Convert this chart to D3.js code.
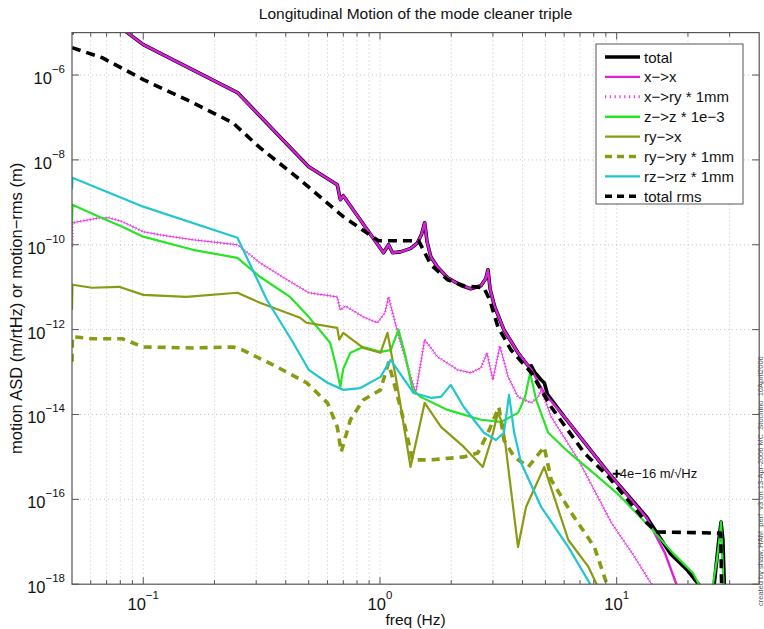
<!DOCTYPE html>
<html>
<head>
<meta charset="utf-8">
<script src="https://cdn.jsdelivr.net/npm/d3@7"></script>
<style>
  html, body { margin: 0; padding: 0; background: #fff; }
  svg text { font-family: "Liberation Sans", Arial, Helvetica, sans-serif; }
</style>
</head>
<body>
<div id="chart"></div>
<script>
// axis labels / ticks
const chartTitle = "Longitudinal Motion of the mode cleaner triple";
const xLabel = "freq (Hz)";
const yLabel = "motion ASD (m/rtHz) or motion\u2212rms (m)";
const xTicks = [0.1, 1, 10];
const yTicks = [1e-6, 1e-8, 1e-10, 1e-12, 1e-14, 1e-16, 1e-18];
const legendLabels = ["total", "x\u2212>x", "x\u2212>ry * 1mm", "z\u2212>z * 1e\u22123",
  "ry\u2212>x", "ry\u2212>ry * 1mm", "rz\u2212>rz * 1mm", "total rms"];
const noteText = "4e\u221216 m/\u221AHz";
const notePoint = [10, 4e-16];
const stampText = "created by shaw, HAM_perf_v3 on 13-Apr-2006 MC_Stochino_10April2006";

// series: [freq (Hz), value]
const totalAsd = [[0.05, 9e-6], [0.0502, 1.2e-4], [0.0856, 1e-5], [0.1, 5.2e-6], [0.25, 3.85e-7],
  [0.5, 6.9e-9], [0.66, 2.6e-9], [0.68, 1.15e-9], [0.70, 1.43e-9], [1.035, 6.5e-11], [1.087, 1.0e-10],
  [1.13, 6.5e-11], [1.22, 6.8e-11], [1.35, 8.2e-11], [1.44, 1.11e-10], [1.5, 1.8e-10], [1.545, 3.3e-10],
  [1.58, 1.2e-10], [1.64, 5.2e-11], [1.75, 3.0e-11], [1.93, 1.67e-11], [2.2, 1.1e-11], [2.42, 9.2e-12],
  [2.67, 1.08e-11], [2.8, 1.6e-11], [2.86, 2.57e-11], [2.92, 9e-12], [3.05, 3.5e-12], [3.34, 9.9e-13],
  [3.83, 2.84e-13], [4.25, 1.35e-13], [4.36, 1.4e-13], [4.5, 1.0e-13], [4.8, 6.5e-14], [4.95, 5.5e-14],
  [5.1, 3.0e-14], [6.01, 8.8e-15], [9.24, 4.2e-16], [13.4, 3.8e-17], [16.8, 5.4e-18], [19.8, 2.2e-18],
  [22.5, 9e-19], [25.5, 5e-19], [27.0, 1.1e-17], [27.6, 2.9e-17], [28.1, 1.1e-17], [28.6, 5e-19]];

const xToX = [[0.05, 9e-6], [0.0502, 1.2e-4], [0.0856, 1e-5], [0.1, 5.2e-6], [0.25, 3.85e-7],
  [0.5, 6.9e-9], [0.66, 2.6e-9], [0.68, 1.15e-9], [0.70, 1.43e-9], [1.035, 6.5e-11], [1.087, 1.0e-10],
  [1.13, 6.5e-11], [1.22, 6.8e-11], [1.35, 8.2e-11], [1.44, 1.11e-10], [1.5, 1.8e-10], [1.545, 3.3e-10],
  [1.58, 1.2e-10], [1.64, 5.2e-11], [1.75, 3.0e-11], [1.93, 1.67e-11], [2.2, 1.1e-11], [2.42, 9.2e-12],
  [2.67, 1.08e-11], [2.8, 1.6e-11], [2.86, 2.57e-11], [2.92, 9e-12], [3.05, 3.5e-12], [3.34, 9.9e-13],
  [3.83, 2.84e-13], [4.36, 1.13e-13], [4.94, 3.2e-14], [6.01, 8.8e-15], [9.24, 4.2e-16], [13.4, 3.6e-17],
  [16.0, 5.4e-18], [18.0, 9e-19]];

const xToRy = [[0.05, 9e-11], [0.0502, 3.3e-10], [0.0651, 4.3e-10], [0.0718, 4.3e-10], [0.0815, 3.5e-10],
  [0.1, 2.03e-10], [0.117, 1.72e-10], [0.162, 1.31e-10], [0.25, 1.0e-10], [0.311, 3.76e-11], [0.405, 1.5e-11],
  [0.5, 7.4e-12], [0.66, 5.9e-12], [0.68, 2.9e-12], [0.714, 3.6e-12], [0.85, 2.0e-12], [0.975, 1.45e-12],
  [1.05, 2.5e-12], [1.087, 5.9e-12], [1.19, 8.3e-13], [1.31, 1.33e-13], [1.415, 3.2e-14], [1.545, 5.8e-13],
  [1.75, 2.28e-13], [2.13, 1.13e-13], [2.42, 9.6e-14], [2.67, 1.26e-13], [2.83, 2.84e-13], [3.0, 6.5e-14],
  [3.21, 4.1e-13], [3.48, 7.7e-14], [3.83, 2.6e-14], [4.36, 1.88e-14], [4.66, 2.6e-14], [4.8, 3.8e-14],
  [5.29, 8.8e-15], [6.89, 8.5e-16], [9.5, 2.8e-17], [11.9, 4.4e-18], [14.2, 9e-19]];

const zToZ = [[0.05, 3.3e-10], [0.0502, 8.8e-10], [0.0651, 4.6e-10], [0.0815, 2.66e-10], [0.1, 1.55e-10],
  [0.162, 7.6e-11], [0.25, 4.9e-11], [0.311, 1.76e-11], [0.417, 5.9e-12], [0.5, 2.0e-12], [0.616, 4.9e-13],
  [0.65, 1.5e-13], [0.68, 4.5e-14], [0.70, 1.2e-13], [0.75, 2.84e-13], [0.85, 3.9e-13], [1.005, 3.0e-13],
  [1.11, 3.3e-13], [1.198, 9.9e-13], [1.283, 2.3e-13], [1.374, 3.8e-14], [1.486, 2.6e-14], [1.93, 1.28e-14],
  [2.67, 7.5e-15], [3.25, 6.7e-15], [3.83, 1.09e-14], [4.1, 2.5e-14], [4.31, 9.6e-14], [4.57, 2.2e-14],
  [5.14, 3.7e-15], [6.25, 1.31e-15], [8.63, 2.87e-16], [9.99, 1.42e-16], [10.5, 1.08e-16], [13.8, 2.24e-17],
  [17.3, 5.4e-18], [21.0, 1.84e-18], [22.5, 9e-19], [25.0, 5e-19], [26.5, 3.7e-18], [27.3, 1.45e-17],
  [27.6, 2.9e-17], [27.8, 1.1e-17], [28.4, 5e-19]];

const ryToX = [[0.05, 2.9e-12], [0.0502, 1.14e-11], [0.0608, 9.7e-12], [0.079, 1.02e-11], [0.1, 6.6e-12],
  [0.152, 5.9e-12], [0.25, 7.4e-12], [0.311, 4.3e-12], [0.46, 1.9e-12], [0.49, 1.45e-12], [0.66, 1.1e-12],
  [0.673, 5.8e-13], [0.70, 8.4e-13], [0.85, 3.7e-13], [1.005, 2.84e-13], [1.076, 8.4e-13], [1.186, 4.5e-14],
  [1.346, 5.8e-16], [1.545, 1.88e-14], [1.81, 5.1e-15], [2.26, 1.72e-15], [2.72, 5.8e-16], [2.95, 2.5e-15],
  [3.15, 1.09e-14], [3.31, 5.7e-15], [3.83, 7.5e-18], [4.14, 6.6e-17], [4.94, 5.8e-16], [6.25, 1.1e-17],
  [7.6, 2.55e-18], [8.3, 9e-19]];

const ryToRy = [[0.05, 1.74e-13], [0.0502, 6.8e-13], [0.0608, 6.1e-13], [0.0815, 6.1e-13], [0.1, 3.9e-13],
  [0.162, 3.7e-13], [0.239, 3.9e-13], [0.263, 3.3e-13], [0.353, 1.48e-13], [0.49, 5.6e-14], [0.60, 1.88e-14],
  [0.66, 5.1e-15], [0.686, 1.31e-15], [0.75, 7.5e-15], [0.85, 2.2e-14], [1.005, 3.8e-14], [1.087, 1.65e-13],
  [1.22, 1.5e-14], [1.374, 8.5e-16], [1.64, 8.5e-16], [2.26, 1.0e-15], [2.59, 1.24e-15], [2.86, 3.7e-15],
  [3.18, 1.5e-14], [3.34, 2.5e-15], [3.69, 1.0e-15], [4.23, 5.8e-16], [4.94, 1.72e-15], [5.29, 2.87e-16],
  [6.43, 4.8e-17], [8.05, 7.5e-18], [9.15, 9e-19]];

const rzToRz = [[0.05, 2e-9], [0.0502, 3.8e-9], [0.1, 7.9e-10], [0.25, 1.46e-10], [0.333, 5.0e-12],
  [0.43, 4.9e-13], [0.5, 1.13e-13], [0.6, 5.6e-14], [0.7, 3.8e-14], [0.826, 4.2e-14], [1.005, 7.7e-14],
  [1.11, 1.94e-13], [1.387, 3.2e-14], [1.64, 2.47e-14], [1.81, 2.6e-14], [1.99, 5.0e-14], [2.26, 1.5e-14],
  [2.75, 3.7e-15], [3.09, 2.5e-15], [3.34, 3.7e-15], [3.51, 2.9e-14], [3.69, 3.7e-15], [3.95, 7.2e-16],
  [4.8, 6.6e-17], [6.25, 7.5e-18], [7.82, 9e-19]];

const totalRms = [[0.05, 4.43e-6], [0.067, 2.57e-6], [0.1, 7.8e-7], [0.162, 2.23e-7], [0.239, 7.5e-8],
  [0.311, 1.94e-8], [0.46, 3.4e-9], [0.70, 4.6e-10], [0.985, 1.24e-10], [1.457, 1.24e-10], [1.64, 3.4e-11],
  [1.93, 1.5e-11], [2.26, 1.08e-11], [2.75, 9.7e-12], [2.91, 5.0e-12], [3.15, 1.16e-12], [3.58, 3.3e-13],
  [4.36, 9.6e-14], [5.29, 1.5e-14], [7.3, 1.24e-15], [9.24, 3.4e-16], [13.4, 2.8e-17], [14.8, 1.7e-17],
  [27.5, 1.6e-17], [27.8, 5e-19]];

(() => {
  const W = 764, H = 629;
  const plot = { left: 72, top: 32.6, right: 759.2, bottom: 584.2 };

  const svg = d3.select("#chart").append("svg")
    .attr("width", W).attr("height", H)
    .style("display", "block");

  const x = d3.scaleLog().domain([0.05, 40]).range([plot.left, plot.right]);
  const y = d3.scaleLog().domain([1e-18, 1e-5]).range([plot.bottom, plot.top]);

  // minor x grid positions (1..9 per decade)
  const xMinor = [];
  for (let e = -2; e <= 1; e++) {
    for (let k = 1; k <= 9; k++) {
      const v = k * Math.pow(10, e);
      if (v > 0.05 && v < 40) xMinor.push(v);
    }
  }

  svg.append("rect").attr("x", plot.left).attr("y", plot.top)
    .attr("width", plot.right - plot.left).attr("height", plot.bottom - plot.top)
    .attr("fill", "#fff");

  // === grid ===
  const grid = svg.append("g").attr("stroke", "#b8b8b8").attr("stroke-width", 0.8)
    .attr("stroke-dasharray", "1,3");
  grid.selectAll("line.vx").data(xMinor).enter().append("line")
    .attr("x1", d => x(d)).attr("x2", d => x(d))
    .attr("y1", plot.top).attr("y2", plot.bottom);
  grid.selectAll("line.hy").data(yTicks.filter(v => v > 1e-18)).enter().append("line")
    .attr("y1", d => y(d)).attr("y2", d => y(d))
    .attr("x1", plot.left).attr("x2", plot.right);

  // === curves ===
  svg.append("clipPath").attr("id", "plotclip").append("rect")
    .attr("x", plot.left).attr("y", plot.top)
    .attr("width", plot.right - plot.left).attr("height", plot.bottom - plot.top);

  const line = d3.line().x(d => x(d[0])).y(d => y(d[1]));
  const curves = svg.append("g").attr("clip-path", "url(#plotclip)")
    .attr("fill", "none").attr("stroke-linejoin", "round");

  const styles = [
    { data: totalAsd, color: "#000", width: 3.6 },
    { data: xToX, color: "#dd1fdd", width: 2.4 },
    { data: xToRy, color: "#e23ee2", width: 1, hatch: true },
    { data: zToZ, color: "#27e427", width: 2.2 },
    { data: ryToX, color: "#8a9a12", width: 2.2 },
    { data: ryToRy, color: "#8a9a12", width: 3.6, dash: "8,6" },
    { data: rzToRz, color: "#22c6cf", width: 2.2 },
    { data: totalRms, color: "#000", width: 3.6, dash: "9,6" }
  ];

  styles.forEach(s => {
    const p = curves.append("path").attr("d", line(s.data))
      .attr("stroke", s.color).attr("stroke-width", s.width);
    if (s.dash) p.attr("stroke-dasharray", s.dash);
    if (s.hatch) {
      curves.append("path").attr("d", line(s.data))
        .attr("stroke", s.color).attr("stroke-width", 3)
        .attr("stroke-dasharray", "0.8,2.4").attr("opacity", 0.9);
    }
  });

  // annotation
  const nx = x(notePoint[0]), ny = y(notePoint[1]);
  svg.append("path").attr("d", `M${nx - 4},${ny}H${nx + 4}M${nx},${ny - 4}V${ny + 4}`)
    .attr("stroke", "#000").attr("stroke-width", 2);
  svg.append("text").attr("x", nx + 3).attr("y", ny + 4.5)
    .attr("font-size", 13).attr("fill", "#111").text(noteText);

  // === axes frame + ticks (inward, mirrored) ===
  const axisColor = "#555";
  const tickG = svg.append("g").attr("stroke", axisColor).attr("stroke-width", 1);
  [[plot.bottom, -1], [plot.top, 1]].forEach(([yy, dir]) => {
    tickG.selectAll(null).data(xMinor).enter().append("line")
      .attr("x1", d => x(d)).attr("x2", d => x(d))
      .attr("y1", yy).attr("y2", d => yy + dir * (xTicks.includes(d) ? 7 : 4));
  });
  [[plot.left, 1], [plot.right, -1]].forEach(([xx, dir]) => {
    tickG.selectAll(null).data(yTicks).enter().append("line")
      .attr("y1", d => y(d)).attr("y2", d => y(d))
      .attr("x1", xx).attr("x2", xx + dir * 7);
  });
  svg.append("rect").attr("x", plot.left).attr("y", plot.top)
    .attr("width", plot.right - plot.left).attr("height", plot.bottom - plot.top)
    .attr("fill", "none").attr("stroke", axisColor).attr("stroke-width", 1.2);

  const expStr = v => String(Math.round(Math.log10(v))).replace("-", "\u2212");

  // x tick labels
  xTicks.forEach(v => {
    const t = svg.append("text").attr("x", x(v)).attr("y", plot.bottom + 26)
      .attr("text-anchor", "middle").attr("font-size", 16.5).attr("fill", "#111");
    t.append("tspan").text("10");
    t.append("tspan").attr("dy", -11).attr("font-size", 11.5).text(expStr(v));
  });
  // y tick labels
  yTicks.forEach(v => {
    const t = svg.append("text").attr("x", 65).attr("y", y(v) + 9)
      .attr("text-anchor", "end").attr("font-size", 16.5).attr("fill", "#111");
    t.append("tspan").text("10");
    t.append("tspan").attr("dy", -11).attr("font-size", 11.5).text(expStr(v));
  });

  // titles
  const cx = (plot.left + plot.right) / 2;
  svg.append("text").attr("x", cx).attr("y", 19).attr("text-anchor", "middle")
    .attr("font-size", 15.5).attr("fill", "#111").text(chartTitle);
  svg.append("text").attr("x", cx).attr("y", 625).attr("text-anchor", "middle")
    .attr("font-size", 15.5).attr("fill", "#111").text(xLabel);
  svg.append("text")
    .attr("transform", `translate(22, ${(plot.top + plot.bottom) / 2}) rotate(-90)`)
    .attr("text-anchor", "middle").attr("font-size", 16.5).attr("fill", "#111").text(yLabel);
  svg.append("text")
    .attr("transform", `translate(763, 606) rotate(-90)`)
    .attr("text-anchor", "start").attr("font-size", 7.5).attr("fill", "#555").text(stampText);

  // === legend ===
  const lg = svg.append("g");
  lg.append("rect").attr("x", 596).attr("y", 44).attr("width", 147).attr("height", 160)
    .attr("fill", "#fff").attr("stroke", axisColor).attr("stroke-width", 1);
  legendLabels.forEach((lab, i) => {
    const s = styles[i];
    const ly = 57 + i * 19.9;
    const l = lg.append("line").attr("x1", 605).attr("x2", 640).attr("y1", ly).attr("y2", ly)
      .attr("stroke", s.color).attr("stroke-width", s.hatch ? 3 : Math.max(s.width, 2.4));
    if (s.dash) l.attr("stroke-dasharray", "7,5");
    if (s.hatch) l.attr("stroke-dasharray", "1.2,3.6");
    lg.append("text").attr("x", 644).attr("y", ly + 5.5)
      .attr("font-size", 15).attr("fill", "#111").text(lab);
  });
})();
</script>
</body>
</html>
